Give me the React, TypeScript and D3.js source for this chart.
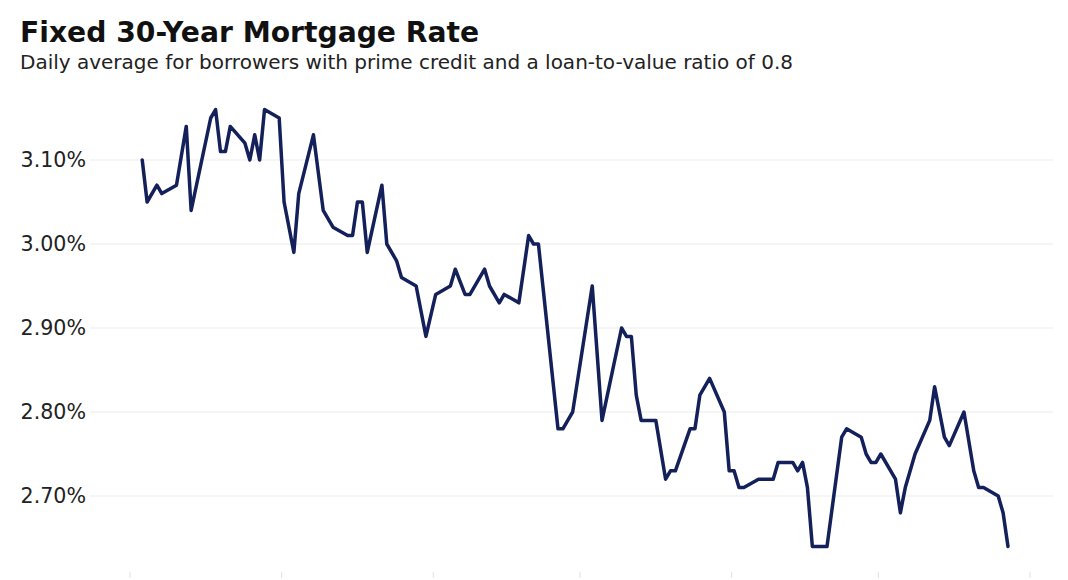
import React from "react";
import * as d3 from "d3";

const title = "Fixed 30-Year Mortgage Rate";
const subtitle = "Daily average for borrowers with prime credit and a loan-to-value ratio of 0.8";

const dates = [
  "2020-07-03","2020-07-04","2020-07-06","2020-07-07","2020-07-10","2020-07-12","2020-07-13",
  "2020-07-17","2020-07-18","2020-07-19","2020-07-20","2020-07-21","2020-07-24","2020-07-25",
  "2020-07-26","2020-07-27","2020-07-28","2020-07-31","2020-08-01","2020-08-03","2020-08-04",
  "2020-08-07","2020-08-09","2020-08-11","2020-08-14","2020-08-15","2020-08-16","2020-08-17",
  "2020-08-18","2020-08-21","2020-08-22","2020-08-24","2020-08-25","2020-08-28","2020-08-30",
  "2020-09-01","2020-09-04","2020-09-05","2020-09-07","2020-09-08","2020-09-11","2020-09-12",
  "2020-09-14","2020-09-15","2020-09-18","2020-09-20","2020-09-21","2020-09-22","2020-09-26",
  "2020-09-27","2020-09-28","2020-09-29","2020-10-03","2020-10-05","2020-10-09","2020-10-10",
  "2020-10-11","2020-10-12","2020-10-13","2020-10-16","2020-10-18","2020-10-19","2020-10-20",
  "2020-10-23","2020-10-24","2020-10-25","2020-10-27","2020-10-30","2020-10-31","2020-11-01",
  "2020-11-02","2020-11-03","2020-11-06","2020-11-09","2020-11-10","2020-11-13","2020-11-14",
  "2020-11-15","2020-11-16","2020-11-17","2020-11-20","2020-11-23","2020-11-24","2020-11-27",
  "2020-11-28","2020-11-29","2020-11-30","2020-12-01","2020-12-04","2020-12-05","2020-12-06",
  "2020-12-08","2020-12-11","2020-12-12","2020-12-14","2020-12-15","2020-12-18","2020-12-20",
  "2020-12-21","2020-12-22","2020-12-25","2020-12-26","2020-12-27"
];

const rates = [
  3.10,3.05,3.07,3.06,3.07,3.14,3.04,
  3.15,3.16,3.11,3.11,3.14,3.12,3.10,
  3.13,3.10,3.16,3.15,3.05,2.99,3.06,
  3.13,3.04,3.02,3.01,3.01,3.05,3.05,
  2.99,3.07,3.00,2.98,2.96,2.95,2.89,
  2.94,2.95,2.97,2.94,2.94,2.97,2.95,
  2.93,2.94,2.93,3.01,3.00,3.00,2.78,
  2.78,2.79,2.80,2.95,2.79,2.90,2.89,
  2.89,2.82,2.79,2.79,2.72,2.73,2.73,
  2.78,2.78,2.82,2.84,2.80,2.73,2.73,
  2.71,2.71,2.72,2.72,2.74,2.74,2.73,
  2.74,2.71,2.64,2.64,2.77,2.78,2.77,
  2.75,2.74,2.74,2.75,2.72,2.68,2.71,
  2.75,2.79,2.83,2.77,2.76,2.80,2.73,
  2.71,2.71,2.70,2.68,2.64
];

const yTicks = [2.7, 2.8, 2.9, 3.0, 3.1];

const W = 1068;
const H = 580;

export default function App() {
  const parse = d3.timeParse("%Y-%m-%d");
  const data = dates.map((d, i) => ({
    date: d3.timeHour.offset(parse(d) as Date, 12),
    value: rates[i],
  }));

  const x = d3
    .scaleTime()
    .domain([new Date(2020, 6, 1), new Date(2021, 0, 1)])
    .range([130, 1030]);
  const y = d3.scaleLinear().domain([2.7, 3.1]).range([496, 160]);

  const line = d3
    .line<{ date: Date; value: number }>()
    .x((d) => x(d.date))
    .y((d) => y(d.value));

  const xTicks = x.ticks(d3.timeMonth.every(1) as any);
  const font = "'DejaVu Sans', Verdana, sans-serif";

  return (
    <div style={{ position: "fixed", left: 0, top: 0, width: W, height: H, background: "#fff" }}>
      <svg width={W} height={H} style={{ display: "block" }}>
        <rect width={W} height={H} fill="#ffffff" />
        <text x={20} y={42} fontFamily={font} fontWeight="bold" fontSize={28.2} fill="#111">
          {title}
        </text>
        <text x={20} y={69} fontFamily={font} fontSize={20} fill="#222">
          {subtitle}
        </text>
        {yTicks.map((t) => (
          <g key={t}>
            <line x1={90} x2={1053} y1={y(t)} y2={y(t)} stroke="#ebebeb" strokeWidth={1} />
            <text
              x={86}
              y={y(t)}
              dy="0.36em"
              textAnchor="end"
              fontFamily={font}
              fontSize={20.6}
              fill="#222"
            >
              {d3.format(".2f")(t) + "%"}
            </text>
          </g>
        ))}
        {xTicks.map((t, i) => (
          <line key={i} x1={x(t)} x2={x(t)} y1={572} y2={578} stroke="#e0e0e0" strokeWidth={1} />
        ))}
        <path
          d={line(data) || ""}
          fill="none"
          stroke="#13205a"
          strokeWidth={3.5}
          strokeLinejoin="round"
          strokeLinecap="round"
        />
      </svg>
    </div>
  );
}
